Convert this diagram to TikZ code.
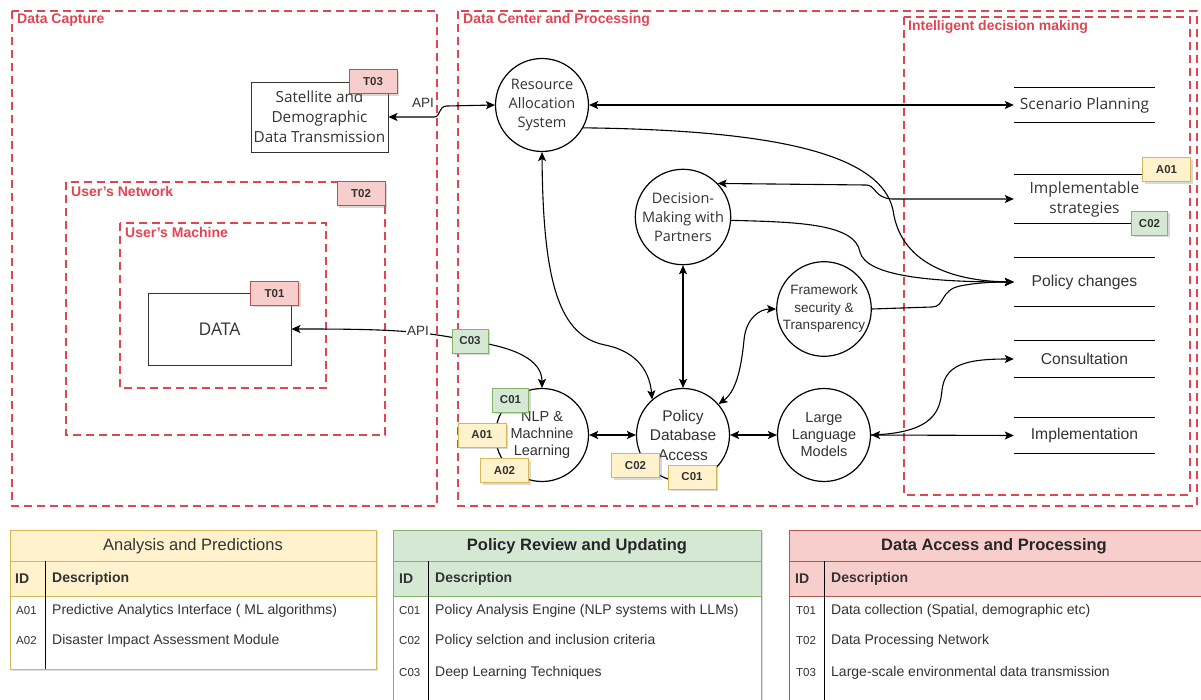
\documentclass[tikz,border=0pt]{standalone}
\usepackage{fontspec}
\setmainfont{Liberation Sans}
\newfontfamily\osans{Open Sans}
\usetikzlibrary{arrows.meta,shadows}
\definecolor{frame}{RGB}{226,68,82}
\definecolor{yfill}{HTML}{FFF2CC}\definecolor{ystroke}{HTML}{D6B656}
\definecolor{gfill}{HTML}{D5E8D4}\definecolor{gstroke}{HTML}{82B366}
\definecolor{rfill}{HTML}{F8CECC}\definecolor{rstroke}{HTML}{B85450}
\definecolor{ink}{HTML}{333333}
\begin{document}
\begin{tikzpicture}[x=1pt,y=1pt,
  zone/.style={draw=frame, line width=2pt, dash pattern=on 8pt off 5pt},
  zonelabel/.style={anchor=west, text=frame, font=\bfseries\fontsize{14}{16}\selectfont, inner sep=0pt},
  proc/.style={circle, draw=black, line width=1.2pt, fill=white, minimum size=93pt, inner sep=0pt, align=center, text=ink},
  osfont/.style={font=\osans\fontsize{14.5}{19}\selectfont},
  arfont/.style={font=\fontsize{14.5}{17}\selectfont},
  box/.style={draw=black!80, line width=0.9pt, fill=white, align=center, text=ink, inner sep=0pt},
  store/.style={minimum width=141pt, inner sep=0pt, align=center, text=ink},
  tag/.style={draw, line width=1pt, minimum height=24pt, inner sep=0pt,
    font=\bfseries\fontsize{11.5}{13}\selectfont, text=black!80,
    drop shadow={shadow xshift=2pt, shadow yshift=-2pt, opacity=0.3}},
  tagY/.style={tag, fill=yfill, draw=ystroke, minimum width=48pt},
  tagG/.style={tag, fill=gfill, draw=gstroke, minimum width=36pt},
  tagR/.style={tag, fill=rfill, draw=rstroke, minimum width=48pt},
  flow/.style={line width=1.1pt, draw=black},
  idtxt/.style={anchor=west, inner sep=0pt, font=\fontsize{11.5}{13}\selectfont, text=ink},
  desctxt/.style={anchor=west, inner sep=0pt, font=\fontsize{14}{16}\selectfont, text=ink},
  headtxt/.style={anchor=west, inner sep=0pt, font=\bfseries\fontsize{14}{16}\selectfont, text=ink},
  titletxt/.style={font=\fontsize{16.5}{19}\selectfont, text=ink},
  >={Stealth[length=9pt,width=8pt,inset=2pt]}
]
\useasboundingbox (0,0) rectangle (1201,-700);
\clip (0,0) rectangle (1201,-700);

% zones
\draw[zone] (12,-11) rectangle (437,-506);
\draw[zone] (458,-11) rectangle (1197,-506);
\draw[zone] (904,-17) rectangle (1190,-495);
\draw[zone] (66,-182) rectangle (385,-435);
\draw[zone] (120,-223) rectangle (326,-388);
\node[zonelabel] (lcap) at (17,-20) {Data Capture};
\node[zonelabel] (lcen) at (463,-20) {Data Center and Processing};
\node[zonelabel] (lint) at (908,-27) {Intelligent decision making};
\node[zonelabel] (lnet) at (71,-191) {User's Network};
\node[zonelabel] (lmac) at (125,-232) {User's Machine};

% sources
\node[box, minimum width=137pt, minimum height=70pt, font=\osans\fontsize{15.3}{20}\selectfont] (sat) at (319.5,-117) {Satellite and\\Demographic\\Data Transmission};
\node[box, minimum width=143pt, minimum height=72pt, font=\osans\fontsize{17.5}{20}\selectfont] (data) at (219.5,-329) {DATA};

% processes
\node[proc, osfont] (res) at (542,-105) {Resource\\Allocation\\System};
\node[proc, osfont] (dec) at (683,-217) {Decision-\\Making with\\Partners};
\node[proc, font=\fontsize{13.5}{17.5}\selectfont] (fw) at (824,-309) {Framework\\security \&\\Transparency};
\node[proc, arfont] (nlp) at (542,-435) {NLP \&\\Machnine\\Learning};
\node[proc, font=\fontsize{15.5}{19.5}\selectfont] (pdb) at (683,-435) {Policy\\Database\\Access};
\node[proc, arfont] (llm) at (824,-435) {Large\\Language\\Models};

% outcomes
\node[store, minimum height=35pt, font=\osans\fontsize{15.5}{20}\selectfont] (scen) at (1084.5,-105) {Scenario Planning};
\node[store, minimum height=48pt, font=\osans\fontsize{15.5}{20}\selectfont] (impl) at (1084.5,-199) {Implementable\\strategies};
\node[store, minimum height=48pt, font=\fontsize{15.7}{18}\selectfont] (pol) at (1084.5,-282) {Policy changes};
\node[store, minimum height=36pt, font=\fontsize{15.7}{18}\selectfont] (cons) at (1084.5,-359) {Consultation};
\node[store, minimum height=35pt, font=\fontsize{15.7}{18}\selectfont] (imp) at (1084.5,-435.5) {Implementation};
\foreach \n in {scen,impl,pol,cons,imp}
  \draw[line width=1.1pt] (\n.north west) -- (\n.north east) (\n.south west) -- (\n.south east);

% flows
\draw[flow,<->] (sat.east) -- (434,-117) .. controls (441,-117) and (438,-106) .. (447,-106) -- (res.west);
\node[inner sep=0pt, font=\fontsize{13.5}{15}\selectfont, text=ink] (api1) at (423,-103) {API};
\draw[flow,<->] (res.east) -- (scen.west);
\draw[flow,->] (res.-29) .. controls (760,-130) and (880,-150) .. (893,-210) .. controls (900,-262) and (950,-281) .. (pol.west);
\draw[flow,<->] (dec.44) -- (866,-185) .. controls (876,-185) and (874,-198) .. (892,-199) -- (impl.west);
\draw[flow,->] (dec.-4) .. controls (800,-222) and (855,-224) .. (860,-252) .. controls (866,-276) and (930,-282) .. (pol.west);
\draw[flow,->] (fw.east) -- (932,-307) .. controls (945,-307) and (940,-290) .. (960,-286) .. controls (975,-283) and (990,-282) .. (pol.west);
\draw[flow,<->] (res.south) .. controls (543,-285) and (560,-336) .. (605,-345) .. controls (640,-352) and (650,-375) .. (pdb.131);
\draw[flow,<->] (dec.south) -- (pdb.north);
\draw[flow,<->] (pdb.41) .. controls (738,-390) and (742,-360) .. (744,-340) .. controls (746,-318) and (760,-309) .. (fw.west);
\draw[flow,<->] (nlp.east) -- (pdb.west);
\draw[flow,<->] (pdb.east) -- (llm.west);
\draw[flow,<->] (llm.east) -- (imp.west);
\draw[flow,->] (llm.east) .. controls (935,-433) and (940,-410) .. (942,-390) .. controls (945,-365) and (965,-359) .. (cons.west);
\draw[flow,<->] (data.east) .. controls (380,-329) and (420,-330) .. (470,-341) .. controls (515,-347) and (542,-360) .. (nlp.north);
\node[fill=white, inner sep=1pt, font=\fontsize{13.5}{15}\selectfont, text=ink] (api2) at (418,-331) {API};

% tags
\node[tagR] (t03) at (373,-82) {T03};
\node[tagR] (t02) at (361,-194) {T02};
\node[tagR] (t01) at (274.5,-293.5) {T01};
\node[tagY] (a01r) at (1166.5,-170) {A01};
\node[tagG] (c02r) at (1149.5,-223.5) {C02};
\node[tagG] (c03) at (470,-341) {C03};
\node[tagG] (c01g) at (510.5,-400) {C01};
\node[tagY] (a01n) at (482,-435) {A01};
\node[tagY] (a02) at (504.5,-470.5) {A02};
\node[tagY] (c02y) at (635.5,-465.5) {C02};
\node[tagY] (c01y) at (692,-477) {C01};

% legend: analysis and predictions
\filldraw[fill=white, draw=ystroke, line width=1pt, drop shadow={shadow xshift=2pt, shadow yshift=-2pt, opacity=0.25}] (10,-530) rectangle (376,-669);
\filldraw[fill=yfill, draw=ystroke, line width=1pt] (10,-530) rectangle (376,-596);
\draw[ystroke, line width=1pt] (10,-561) -- (376,-561);
\draw[black, line width=1pt] (45,-561) -- (45,-669);
\node[titletxt] (ta) at (193,-546) {Analysis and Predictions};
\node[headtxt] (ta0) at (15,-578.5) {ID};
\node[headtxt] (ta1) at (52,-578.5) {Description};
\node[idtxt] (ta2) at (16,-611) {A01};
\node[desctxt] (ta3) at (52,-611) {Predictive Analytics Interface ( ML algorithms)};
\node[idtxt] (ta4) at (16,-641) {A02};
\node[desctxt] (ta5) at (52,-641) {Disaster Impact Assessment Module};

% legend: policy review and updating
\filldraw[fill=white, draw=gstroke, line width=1pt, drop shadow={shadow xshift=2pt, shadow yshift=-2pt, opacity=0.25}] (393,-530) rectangle (761,-704);
\filldraw[fill=gfill, draw=gstroke, line width=1pt] (393,-530) rectangle (761,-596);
\draw[gstroke, line width=1pt] (393,-561) -- (761,-561);
\draw[black, line width=1pt] (428,-561) -- (428,-704);
\node[titletxt, font=\bfseries\fontsize{16.5}{19}\selectfont, text=black!85] (tb) at (577,-546) {Policy Review and Updating};
\node[headtxt] (tb0) at (399,-578.5) {ID};
\node[headtxt] (tb1) at (435,-578.5) {Description};
\node[idtxt] (tb2) at (399,-611) {C01};
\node[desctxt] (tb3) at (435,-611) {Policy Analysis Engine (NLP systems with LLMs)};
\node[idtxt] (tb4) at (399,-641) {C02};
\node[desctxt] (tb5) at (435,-641) {Policy selction and inclusion criteria};
\node[idtxt] (tb6) at (399,-673) {C03};
\node[desctxt] (tb7) at (435,-673) {Deep Learning Techniques};

% legend: data access and processing
\filldraw[fill=white, draw=rstroke, line width=1pt] (789,-530) rectangle (1205,-704);
\filldraw[fill=rfill, draw=rstroke, line width=1pt] (789,-530) rectangle (1205,-596);
\draw[rstroke, line width=1pt] (789,-561) -- (1205,-561);
\draw[black, line width=1pt] (824,-561) -- (824,-704);
\node[titletxt, font=\bfseries\fontsize{16.5}{19}\selectfont, text=black!85] (tc) at (994,-546) {Data Access and Processing};
\node[headtxt] (tc0) at (795,-578.5) {ID};
\node[headtxt] (tc1) at (831,-578.5) {Description};
\node[idtxt] (tc2) at (796,-611) {T01};
\node[desctxt] (tc3) at (831,-611) {Data collection (Spatial, demographic etc)};
\node[idtxt] (tc4) at (796,-641) {T02};
\node[desctxt] (tc5) at (831,-641) {Data Processing Network};
\node[idtxt] (tc6) at (796,-673) {T03};
\node[desctxt] (tc7) at (831,-673) {Large-scale environmental data transmission};
\end{tikzpicture}
\end{document}
